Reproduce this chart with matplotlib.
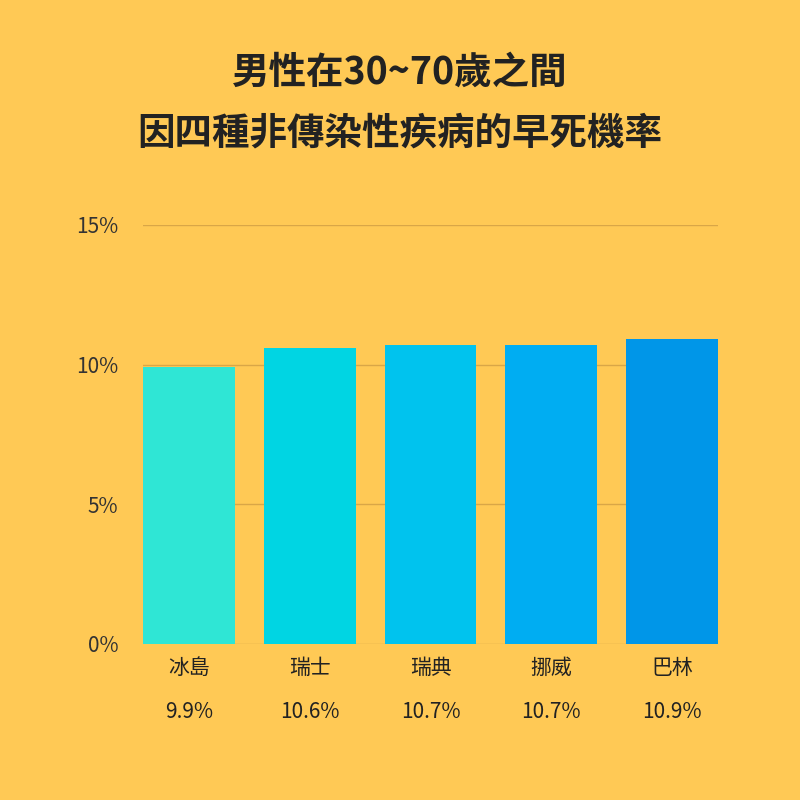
import matplotlib.pyplot as plt

plt.rcParams['font.family'] = ['Noto Sans CJK TC', 'DejaVu Sans']

countries = ['冰島', '瑞士', '瑞典', '挪威', '巴林']
rates = [9.9, 10.6, 10.7, 10.7, 10.9]
colors = ['#2FE6D5', '#00D5E3', '#00C3EE', '#00ADF2', '#0096E8']
yticks = [0, 5, 10, 15]

bg = '#FFC955'
fig = plt.figure(figsize=(8, 8), dpi=100, facecolor=bg)
ax = fig.add_axes([0.179, 0.195, 0.7185, 0.524], facecolor=bg)

x = range(len(countries))
ax.bar(x, rates, width=0.76, color=colors, zorder=2)
ax.set_xlim(-0.38, len(countries) - 1 + 0.38)
ax.set_ylim(0, 15)
ax.set_yticks(yticks)
ax.set_yticklabels([f'{t}%' for t in yticks], fontsize=15, color='#333333')
ax.grid(axis='y', color='#D9A647', linewidth=1, zorder=0)
ax.tick_params(axis='y', length=0, pad=18)
ax.set_xticks([])
for s in ax.spines.values():
    s.set_visible(False)

for i, (c, r) in enumerate(zip(countries, rates)):
    ax.text(i, -0.85, c, ha='center', va='center', fontsize=15, color='#222222')
    ax.text(i, -2.45, f'{r}%', ha='center', va='center', fontsize=15, color='#222222')

fig.text(0.5, 0.91, '男性在30~70歲之間', ha='center', va='center',
         fontsize=27, fontweight='bold', color='#222222')
fig.text(0.5, 0.834, '因四種非傳染性疾病的早死機率', ha='center', va='center',
         fontsize=27, fontweight='bold', color='#222222')

fig.savefig('out.png', facecolor=bg)
